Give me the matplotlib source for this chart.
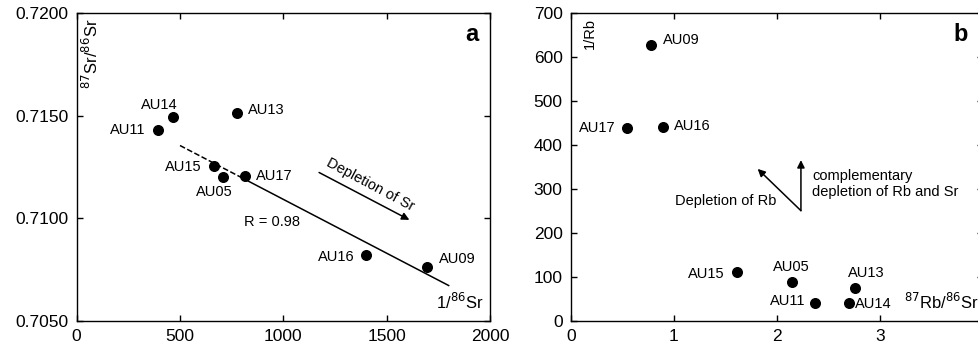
import matplotlib.pyplot as plt

plt.rcParams['font.family'] = ['Liberation Sans', 'DejaVu Sans']

# panel a : 87Sr/86Sr vs 1/86Sr
samples_a = ['AU14', 'AU11', 'AU13', 'AU15', 'AU05', 'AU17', 'AU16', 'AU09']
inv_sr86 = [466, 393, 776, 665, 707, 815, 1399, 1694]
sr_ratio = [0.71493, 0.71430, 0.71513, 0.71256, 0.71203, 0.71208, 0.70824, 0.70764]
offsets_a = [(-10, 9), (-9, 0), (8, 2), (-9, -1), (-6, -11), (8, 0), (-8, -2), (9, 6)]
align_a = ['center', 'right', 'left', 'right', 'center', 'left', 'right', 'left']

# regression line  y = a + b*x
fit_a, fit_b = 0.71618, -5.25e-6
fit_r = 0.98

# panel b : 1/Rb vs 87Rb/86Sr
samples_b = ['AU09', 'AU17', 'AU16', 'AU15', 'AU05', 'AU13', 'AU11', 'AU14']
rb_sr = [0.774, 0.54, 0.893, 1.61, 2.149, 2.76, 2.372, 2.70]
inv_rb = [629, 438, 441, 111, 88, 74, 42, 42]
offsets_b = [(9, 3), (-8, 0), (8, 1), (-9, -1), (-1, 11), (-5, 11), (-7, 1), (4, -1)]
align_b = ['left', 'right', 'left', 'right', 'center', 'left', 'right', 'left']

fig = plt.figure(figsize=(9.79, 3.49), dpi=100)
ax1 = fig.add_axes([0.0783, 0.0802, 0.4222, 0.8817])
ax2 = fig.add_axes([0.5832, 0.0802, 0.4208, 0.8817])

for ax in (ax1, ax2):
    ax.tick_params(direction='in', top=True, right=True, length=4, width=1,
                   labelsize=12.5, pad=6)
    for s in ax.spines.values():
        s.set_linewidth(1)

lab = 10.5

# ---- a ----
ax1.scatter(inv_sr86, sr_ratio, s=48, c='black', zorder=3)
for name, x, y, off, ha in zip(samples_a, inv_sr86, sr_ratio, offsets_a, align_a):
    ax1.annotate(name, (x, y), xytext=off, textcoords='offset points',
                 ha=ha, va='center', fontsize=lab)

ax1.plot([500, 800], [fit_a + fit_b * 500, fit_a + fit_b * 800], 'k--', lw=1.1)
ax1.plot([800, 1800], [fit_a + fit_b * 800, fit_a + fit_b * 1800], 'k-', lw=1.1)
ax1.text(944, 0.70985, 'R = %.2f' % fit_r, ha='center', va='center', fontsize=lab)

ax1.annotate('', xy=(1610, 0.70993), xytext=(1173, 0.71224),
             arrowprops=dict(arrowstyle='-|>', color='black', lw=1.1,
                             mutation_scale=11, shrinkA=0, shrinkB=0))
ax1.text(1420, 0.71166, 'Depletion of Sr', rotation=-28, ha='center', va='center',
         fontsize=lab, rotation_mode='anchor')

ax1.set_xlim(0, 2000)
ax1.set_ylim(0.7050, 0.7200)
ax1.set_xticks([0, 500, 1000, 1500, 2000])
ax1.set_yticks([0.7050, 0.7100, 0.7150, 0.7200])
ax1.set_yticklabels(['0.7050', '0.7100', '0.7150', '0.7200'])
ax1.text(0.985, 0.03, r'1/$^{86}$Sr', transform=ax1.transAxes, ha='right',
         va='bottom', fontsize=12)
ax1.text(0.035, 0.985, r'$^{87}$Sr/$^{86}$Sr', transform=ax1.transAxes, rotation=90,
         ha='center', va='top', fontsize=12)
ax1.text(0.955, 0.93, 'a', transform=ax1.transAxes, ha='center', va='center',
         fontsize=17, fontweight='bold')

# ---- b ----
ax2.scatter(rb_sr, inv_rb, s=48, c='black', zorder=3)
for name, x, y, off, ha in zip(samples_b, rb_sr, inv_rb, offsets_b, align_b):
    ax2.annotate(name, (x, y), xytext=off, textcoords='offset points',
                 ha=ha, va='center', fontsize=lab)

arrow_kw = dict(arrowstyle='-|>', color='black', lw=1.1, mutation_scale=11,
                shrinkA=0, shrinkB=0)
ax2.annotate('', xy=(2.233, 366), xytext=(2.233, 251), arrowprops=arrow_kw)
ax2.annotate('', xy=(1.813, 346), xytext=(2.233, 251), arrowprops=arrow_kw)
ax2.text(1.99, 273, 'Depletion of Rb', ha='right', va='center', fontsize=lab)
ax2.text(2.34, 312, 'complementary\ndepletion of Rb and Sr', ha='left',
         va='center', fontsize=lab, linespacing=1.2)

ax2.set_xlim(0, 4)
ax2.set_ylim(0, 700)
ax2.set_xticks([0, 1, 2, 3, 4])
ax2.set_yticks(range(0, 701, 100))
ax2.text(0.99, 0.03, r'$^{87}$Rb/$^{86}$Sr', transform=ax2.transAxes, ha='right',
         va='bottom', fontsize=12)
ax2.text(0.045, 0.985, '1/Rb', transform=ax2.transAxes, rotation=90,
         ha='center', va='top', fontsize=10.5)
ax2.text(0.945, 0.93, 'b', transform=ax2.transAxes, ha='center', va='center',
         fontsize=17, fontweight='bold')

fig.savefig('out.png', dpi=100)
